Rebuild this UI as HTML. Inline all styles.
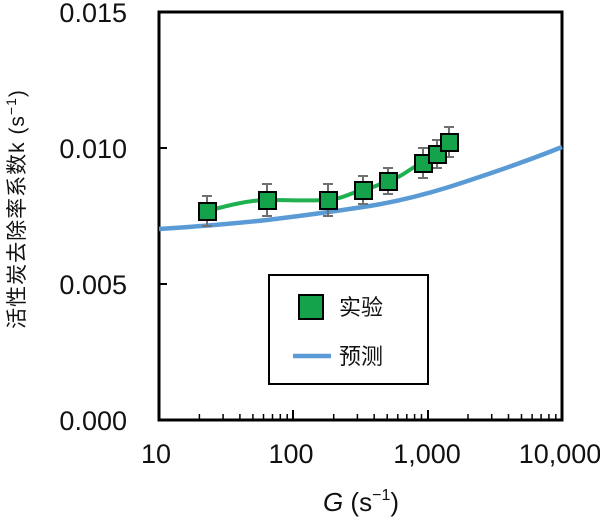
<!DOCTYPE html>
<html><head><meta charset="utf-8"><style>
body{margin:0;background:#fff}
svg{display:block}
text{font-family:"Liberation Sans","Noto Sans CJK SC",sans-serif;fill:#111}
</style></head><body>
<svg width="600" height="517" viewBox="0 0 600 517">
<rect x="159" y="12" width="403" height="408" fill="none" stroke="#000" stroke-width="3"/>
<g stroke="#000" stroke-width="2">
<line x1="159" y1="148" x2="167" y2="148"/>
<line x1="159" y1="284" x2="167" y2="284"/>
<line x1="293" y1="420" x2="293" y2="410"/>
<line x1="428" y1="420" x2="428" y2="410"/>
</g>
<g stroke="#000" stroke-width="1.5">
<line x1="199.4" y1="420" x2="199.4" y2="414"/><line x1="223.1" y1="420" x2="223.1" y2="414"/><line x1="239.9" y1="420" x2="239.9" y2="414"/><line x1="252.9" y1="420" x2="252.9" y2="414"/><line x1="263.5" y1="420" x2="263.5" y2="414"/><line x1="272.5" y1="420" x2="272.5" y2="414"/><line x1="280.3" y1="420" x2="280.3" y2="414"/><line x1="287.2" y1="420" x2="287.2" y2="414"/>
<line x1="333.7" y1="420" x2="333.7" y2="414"/><line x1="357.4" y1="420" x2="357.4" y2="414"/><line x1="374.2" y1="420" x2="374.2" y2="414"/><line x1="387.2" y1="420" x2="387.2" y2="414"/><line x1="397.8" y1="420" x2="397.8" y2="414"/><line x1="406.8" y1="420" x2="406.8" y2="414"/><line x1="414.6" y1="420" x2="414.6" y2="414"/><line x1="421.5" y1="420" x2="421.5" y2="414"/>
<line x1="468" y1="420" x2="468" y2="414"/><line x1="491.7" y1="420" x2="491.7" y2="414"/><line x1="508.5" y1="420" x2="508.5" y2="414"/><line x1="521.5" y1="420" x2="521.5" y2="414"/><line x1="532.1" y1="420" x2="532.1" y2="414"/><line x1="541.1" y1="420" x2="541.1" y2="414"/><line x1="548.9" y1="420" x2="548.9" y2="414"/><line x1="555.8" y1="420" x2="555.8" y2="414"/>
</g>
<g font-size="27" text-anchor="end">
<text x="127" y="22">0.015</text>
<text x="127" y="158">0.010</text>
<text x="127" y="294">0.005</text>
<text x="127" y="430">0.000</text>
</g>
<g font-size="27" text-anchor="middle">
<text x="156" y="463">10</text>
<text x="291" y="463">100</text>
<text x="427" y="463">1,000</text>
<text x="560" y="463">10,000</text>
</g>
<text x="361" y="511" font-size="26" text-anchor="middle"><tspan font-style="italic">G</tspan> (s<tspan font-size="16" dy="-11">−1</tspan><tspan dy="11">)</tspan></text>
<text transform="translate(24,209) rotate(-90)" font-size="21" letter-spacing="1" text-anchor="middle">活性炭去除率系数k (s<tspan font-size="14" dy="-8">−1</tspan><tspan dy="8">)</tspan></text>
<path d="M159,229 C190,227 230,224 267,220 C300,216 330,212 363,207 C390,203 420,196 449,187 C480,177 520,164 562,147" fill="none" stroke="#5b9bd5" stroke-width="4.5"/>
<path d="M207,211 C230,205 250,200 267,200 C290,200 310,201 328,200 C345,198 350,193 363,190 C375,187 380,184 388,181 C405,176 412,166 423,163 C430,161 432,157 437,154 C442,150 445,146 449,142" fill="none" stroke="#1fb04f" stroke-width="4"/>
<g stroke="#707070" stroke-width="2">
<path d="M207,196V226M202,196h10M202,226h10"/>
<path d="M267,184V216M262,184h10M262,216h10"/>
<path d="M328,184V216M323,184h10M323,216h10"/>
<path d="M363,176V204M358,176h10M358,204h10"/>
<path d="M388,168V194M383,168h10M383,194h10"/>
<path d="M423,148V178M418,148h10M418,178h10"/>
<path d="M437,140V168M432,140h10M432,168h10"/>
<path d="M449,127V157M444,127h10M444,157h10"/>
</g>
<g fill="#14a24a" stroke="#000" stroke-width="2">
<rect x="199" y="203" width="17" height="17"/>
<rect x="259" y="192" width="17" height="17"/>
<rect x="320" y="192" width="17" height="17"/>
<rect x="355" y="182" width="17" height="17"/>
<rect x="380" y="173" width="17" height="17"/>
<rect x="415" y="155" width="17" height="17"/>
<rect x="429" y="146" width="17" height="17"/>
<rect x="441" y="134" width="17" height="17"/>
</g>
<rect x="269" y="275" width="159" height="109" fill="#fff" stroke="#000" stroke-width="2"/>
<rect x="299" y="295" width="24" height="24" fill="#14a24a" stroke="#000" stroke-width="2"/>
<line x1="293" y1="356" x2="331" y2="356" stroke="#5b9bd5" stroke-width="4.5"/>
<text x="339" y="315" font-size="22">实验</text>
<text x="339" y="364" font-size="22">预测</text>
</svg>
</body></html>
